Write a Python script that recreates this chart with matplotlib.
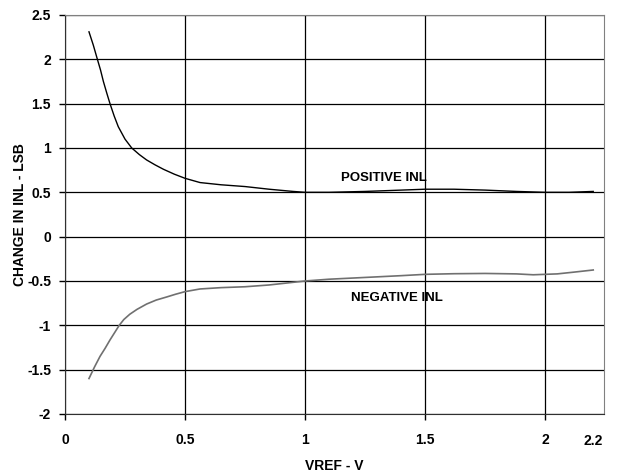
import matplotlib.pyplot as plt

# Dados
vref_pos = [0.10, 0.118, 0.135, 0.148, 0.16, 0.174, 0.1875, 0.205, 0.222, 0.25, 0.278, 0.31, 0.34, 0.375, 0.41, 0.455,
            0.50, 0.5625, 0.65, 0.75, 0.85, 0.95, 1.00, 1.10, 1.25, 1.40, 1.50, 1.62, 1.75, 1.88, 2.00, 2.10, 2.20]
inl_pos = [2.31, 2.16, 2.00, 1.88, 1.75, 1.62, 1.50, 1.36, 1.24, 1.10, 1.00, 0.925, 0.865, 0.81, 0.76, 0.705,
           0.658, 0.61, 0.585, 0.565, 0.535, 0.51, 0.50, 0.50, 0.51, 0.525, 0.535, 0.535, 0.525, 0.51, 0.50, 0.50, 0.51]

vref_neg = [0.10, 0.123, 0.146, 0.167, 0.1875, 0.205, 0.226, 0.245, 0.27, 0.30, 0.34, 0.38, 0.424, 0.46,
            0.50, 0.5625, 0.65, 0.75, 0.85, 0.95, 1.00, 1.10, 1.25, 1.40, 1.50, 1.62, 1.75, 1.88, 1.95, 2.05, 2.12, 2.20]
inl_neg = [-1.60, -1.47, -1.35, -1.26, -1.165, -1.09, -1.00, -0.935, -0.875, -0.82, -0.76, -0.715, -0.68, -0.65,
           -0.62, -0.59, -0.575, -0.565, -0.545, -0.515, -0.50, -0.48, -0.46, -0.44, -0.425, -0.418, -0.415, -0.42, -0.43, -0.42, -0.40, -0.376]

x_ticks = [0, 0.5, 1, 1.5, 2]
x_labels = ['0', '0.5', '1', '1.5', '2']
y_ticks = [-2, -1.5, -1, -0.5, 0, 0.5, 1, 1.5, 2, 2.5]
y_labels = ['-2', '-1.5', '-1', '-0.5', '0', '0.5', '1', '1.5', '2', '2.5']

plt.rcParams['font.family'] = ['Liberation Sans', 'DejaVu Sans']

fig = plt.figure(figsize=(6.17, 4.74), dpi=100)
ax = fig.add_axes([0.1053, 0.1266, 0.8737, 0.8418])

ax.plot(vref_pos, inl_pos, color='black', lw=1.0)
ax.plot(vref_neg, inl_neg, color='#707070', lw=1.2)

ax.set_xlim(0, 2.245)
ax.set_ylim(-2, 2.5)
ax.set_xticks(x_ticks)
ax.set_xticklabels(x_labels)
ax.set_yticks(y_ticks)
ax.set_yticklabels(y_labels)
ax.tick_params(labelsize=10, length=4, width=1, color='black')
ax.tick_params(axis='y', pad=6)
ax.tick_params(axis='x', pad=10)
for lbl in ax.get_xticklabels() + ax.get_yticklabels():
    lbl.set_fontweight('bold')

ax.grid(True, color='black', lw=0.9)
ax.set_axisbelow(True)
for s in ['top', 'right']:
    ax.spines[s].set_color('#808080')
for s in ['left', 'bottom']:
    ax.spines[s].set_color('#303030')

# rótulo extra do eixo x
ax.text(2.2, -2.23, '2.2', ha='center', va='top', fontsize=10, fontweight='bold')

ax.text(1.15, 0.63, 'POSITIVE INL', fontsize=9.5, fontweight='bold')
ax.text(1.19, -0.73, 'NEGATIVE INL', fontsize=9.5, fontweight='bold')

ax.set_xlabel('VREF - V', fontsize=10, fontweight='bold')
ax.xaxis.set_label_coords(0.5, -0.113)
ax.set_ylabel('CHANGE IN INL - LSB', fontsize=10, fontweight='bold')
ax.yaxis.set_label_coords(-0.070, 0.5)

fig.savefig('out.png', dpi=100)
